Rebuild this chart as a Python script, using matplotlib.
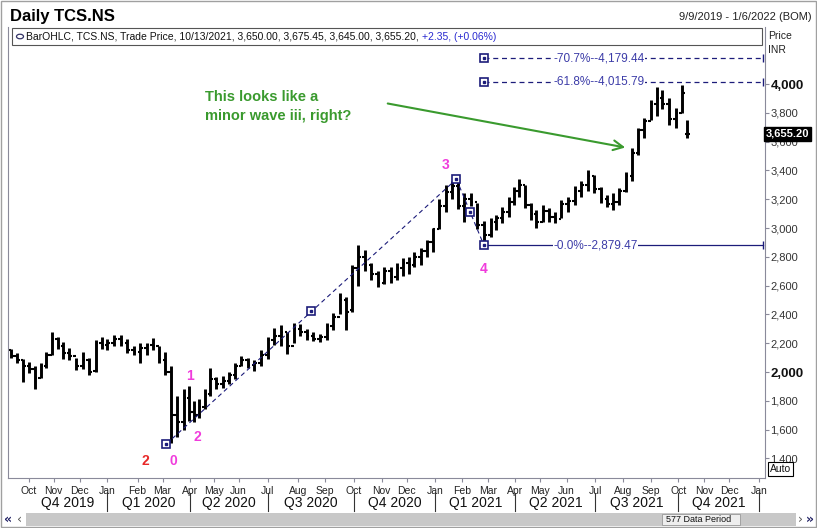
import matplotlib
matplotlib.use('Agg')
import matplotlib.pyplot as plt
import matplotlib.transforms as mtransforms
from matplotlib.patches import Rectangle
import numpy as np
import pandas as pd

plt.rcParams['font.family'] = ['Liberation Sans Narrow', 'Liberation Sans', 'DejaVu Sans']

# NSE trading holidays in the displayed range
holidays = pd.to_datetime([
    '2019-09-10', '2019-10-02', '2019-10-08', '2019-10-21', '2019-10-28', '2019-11-12', '2019-12-25',
    '2020-02-21', '2020-03-10', '2020-04-02', '2020-04-06', '2020-04-10', '2020-04-14', '2020-05-01',
    '2020-05-25', '2020-10-02', '2020-11-16', '2020-11-30', '2020-12-25',
    '2021-01-26', '2021-03-11', '2021-03-29', '2021-04-02', '2021-04-14', '2021-04-21', '2021-05-13',
    '2021-07-21', '2021-08-19', '2021-09-10', '2021-10-15', '2021-11-04', '2021-11-05', '2021-11-19',
])

# weekly OHLC (week starting Monday)
week_start = pd.date_range('2019-09-09', '2021-10-11', freq='W-MON')
last_day = pd.Timestamp('2021-10-13')

highs = [2160, 2130, 2090, 2070, 2040, 2060, 2140, 2280, 2245, 2210,
         2170, 2100, 2140, 2100, 2225, 2245, 2230, 2260, 2260, 2230,
         2180, 2200, 2200, 2236, 2180, 2140, 2040, 1830, 1880, 1900,
         1800, 1810, 1880, 2030, 1965, 1970, 2000, 2060, 2110, 2100,
         2080, 2150, 2240, 2306, 2326, 2280, 2340, 2330, 2300, 2275,
         2265, 2340, 2410, 2549, 2520, 2740, 2882, 2850, 2760, 2700,
         2730, 2730, 2757, 2790, 2800, 2833, 2860, 2917, 3000, 3200,
         3300, 3330, 3340, 3243, 3243, 3174, 3050, 3070, 3090, 3146,
         3215, 3285, 3340, 3300, 3174, 3125, 3160, 3140, 3111, 3194,
         3215, 3290, 3330, 3403, 3368, 3285, 3229, 3243, 3278, 3389,
         3555, 3694, 3764, 3890, 3981, 3960, 3900, 3833, 3990, 3750]
lows = [2095, 2060, 1930, 1995, 1885, 1960, 2030, 2120, 2160, 2090,
        2080, 2015, 2020, 1980, 2000, 2160, 2150, 2180, 2180, 2130,
        2120, 2060, 2120, 2150, 2060, 1980, 1506, 1550, 1600, 1660,
        1650, 1680, 1740, 1830, 1880, 1890, 1920, 1950, 2040, 2030,
        2010, 2040, 2090, 2190, 2180, 2125, 2200, 2250, 2225, 2215,
        2205, 2220, 2290, 2400, 2290, 2420, 2600, 2700, 2640, 2590,
        2610, 2620, 2640, 2670, 2680, 2729, 2740, 2800, 2833, 2990,
        3110, 3200, 3130, 3042, 3150, 2990, 2880, 2938, 2986, 3035,
        3076, 3160, 3215, 3139, 3056, 3000, 3042, 3040, 3035, 3070,
        3111, 3160, 3215, 3260, 3243, 3174, 3146, 3125, 3160, 3250,
        3330, 3507, 3625, 3750, 3780, 3830, 3715, 3694, 3800, 3625]
opens = [2150, 2110, 2080, 2040, 2020, 1960, 2040, 2120, 2230, 2180,
         2130, 2110, 2040, 2080, 2010, 2200, 2190, 2200, 2230, 2200,
         2150, 2140, 2170, 2190, 2180, 2080, 2000, 1700, 1650, 1820,
         1720, 1700, 1760, 1850, 1950, 1920, 1940, 1980, 2040, 2080,
         2050, 2060, 2120, 2220, 2250, 2280, 2180, 2300, 2280, 2250,
         2230, 2240, 2320, 2380, 2500, 2430, 2720, 2800, 2740, 2680,
         2620, 2700, 2660, 2720, 2760, 2740, 2800, 2840, 2900, 2990,
         3150, 3250, 3290, 3150, 3200, 3180, 3020, 2950, 3040, 3070,
         3110, 3180, 3260, 3300, 3160, 3100, 3040, 3120, 3080, 3060,
         3170, 3190, 3260, 3300, 3360, 3270, 3200, 3170, 3180, 3260,
         3360, 3520, 3680, 3740, 3860, 3900, 3860, 3760, 3800, 3650]
closes = [2110, 2080, 2040, 2020, 1960, 2040, 2120, 2230, 2180, 2130,
          2110, 2040, 2080, 2000, 2200, 2190, 2200, 2230, 2200, 2150,
          2140, 2170, 2190, 2180, 2090, 2000, 1700, 1650, 1820, 1720,
          1700, 1760, 1850, 1950, 1920, 1940, 1980, 2040, 2080, 2050,
          2060, 2120, 2220, 2250, 2280, 2180, 2300, 2280, 2250, 2230,
          2240, 2320, 2380, 2500, 2420, 2720, 2800, 2740, 2680, 2620,
          2700, 2660, 2720, 2760, 2740, 2800, 2840, 2900, 2990, 3150,
          3250, 3290, 3150, 3200, 3180, 3020, 2950, 3040, 3070, 3110,
          3180, 3260, 3300, 3160, 3100, 3040, 3120, 3080, 3060, 3170,
          3190, 3260, 3300, 3360, 3270, 3200, 3170, 3180, 3260, 3360,
          3520, 3680, 3740, 3860, 3900, 3860, 3760, 3800, 3935, 3655.20]

# last bar shown in the header
last_ohlc = [3650.00, 3675.45, 3645.00, 3655.20]
last_change = 2.35
last_pct = 0.06

# Elliott wave anchors (0, 3, 4) and fib levels
wave_dates = pd.to_datetime(['2020-03-05', '2021-01-25', '2021-02-24'])
wave_prices = [1501.09, 3339.80, 2879.47]
fib_ratios = [0.0, 0.618, 0.707]

price_ticks = list(range(1400, 4001, 200))
quarters = ['Q4 2019', 'Q1 2020', 'Q2 2020', 'Q3 2020', 'Q4 2020',
            'Q1 2021', 'Q2 2021', 'Q3 2021', 'Q4 2021']

# trading-day calendar -> x index
days = pd.bdate_range('2019-09-09', '2022-01-06')
days = days[~days.isin(holidays)]
day_idx = pd.Series(np.arange(len(days)), index=days)


def xpos(d):
    return day_idx.index.searchsorted(pd.Timestamp(d))


xs = []
for ws in week_start:
    end = min(ws + pd.Timedelta(days=4), last_day)
    sel = day_idx[(day_idx.index >= ws) & (day_idx.index <= end)]
    xs.append(sel.mean())
xs = np.array(xs)

W, H = 817, 528
fig = plt.figure(figsize=(W / 100, H / 100), dpi=100)


def fx(x):
    return x / W


def fy(y):
    return 1 - y / H


ax = fig.add_axes([fx(8), fy(478), (765 - 8) / W, (478 - 27) / H])
ax.set_xlim(-0.8, 576.2)
ax.set_ylim(1264, 4396)

# price bars
ax.vlines(xs, lows, highs, color='black', lw=2.1)
ax.hlines(opens, xs - 2.0, xs, color='black', lw=1.5)
ax.hlines(closes, xs, xs + 2.0, color='black', lw=1.5)

navy = '#1c1c7a'
wx = [xpos(d) for d in wave_dates]
x_end = 574.5


def box(x, y):
    ax.plot([x], [y], marker='s', ms=6, mfc='white', mec=navy, mew=1.2, zorder=5, clip_on=False)
    ax.plot([x], [y], marker='s', ms=2, mfc=navy, mec=navy, zorder=6, clip_on=False)


# wave lines 0->3->4
ax.plot(wx[:2], wave_prices[:2], ls=(0, (4, 3)), color=navy, lw=0.8)
ax.plot(wx[1:], wave_prices[1:], ls=(0, (4, 3)), color=navy, lw=0.8)
for i in range(3):
    box(wx[i], wave_prices[i])
box((wx[0] + wx[1]) / 2, (wave_prices[0] + wave_prices[1]) / 2)
box((wx[1] + wx[2]) / 2, (wave_prices[1] + wave_prices[2]) / 2)

# fib levels projected from wave 4
rng = wave_prices[1] - wave_prices[0]
for r in fib_ratios:
    lvl = wave_prices[2] + r * rng
    ls = '-' if r == 0 else (0, (4, 3))
    ax.plot([wx[2], x_end], [lvl, lvl], ls=ls, color=navy, lw=0.9)
    if r != 0:
        box(wx[2], lvl)
    ax.plot([x_end], [lvl], marker='|', ms=6, color=navy, mew=1)
    ax.text(xpos('2021-05-18'), lvl, f'-{r * 100:.1f}%--{lvl:,.2f}', fontsize=8.5,
            color='#3c3ca8', va='center', ha='left',
            bbox=dict(fc='white', ec='none', pad=0.2))

# wave labels
mag = '#f03cdc'
lab_kw = dict(fontsize=10, fontweight='bold', ha='center', va='center',
              family=['Liberation Sans', 'DejaVu Sans'])
ax.text(104, 1382, '2', color='#e82828', **lab_kw)
ax.text(125, 1382, '0', color=mag, **lab_kw)
ax.text(138, 1972, '1', color=mag, **lab_kw)
ax.text(143.3, 1549, '2', color=mag, **lab_kw)
ax.text(333, 3437, '3', color=mag, **lab_kw)
ax.text(362, 2715, '4', color=mag, **lab_kw)

# green comment + arrow
green = '#3a9a2e'
fig.text(fx(205), fy(97), 'This looks like a', color=green, fontsize=10.5, fontweight='bold',
         va='center', family=['Liberation Sans', 'DejaVu Sans'])
fig.text(fx(205), fy(116), 'minor wave iii, right?', color=green, fontsize=10.5, fontweight='bold',
         va='center', family=['Liberation Sans', 'DejaVu Sans'])
ax.annotate('', xy=(628, H - 148), xycoords='figure pixels', xytext=(385, H - 103),
            textcoords='figure pixels',
            arrowprops=dict(arrowstyle='->,head_length=0.7,head_width=0.35', color=green, lw=1.5))

# axes styling
for s in ['left', 'bottom', 'right']:
    ax.spines[s].set_color('#8a8a9a')
    ax.spines[s].set_linewidth(0.8)
ax.spines['top'].set_visible(False)
ax.yaxis.tick_right()
ax.set_yticks(price_ticks)
ax.set_yticklabels([f'{v:,}' for v in price_ticks])
ax.tick_params(axis='y', direction='out', length=3, width=0.8, colors='#8a8a9a',
               labelcolor='#333333', labelsize=8, pad=1)
for t, v in zip(ax.get_yticklabels(), price_ticks):
    if v in (2000, 4000):
        t.set_fontweight('bold')
        t.set_fontsize(9.5)
        t.set_color('#111111')

months = pd.date_range('2019-10-01', '2022-01-01', freq='MS')
mx = [xpos(m) for m in months]
ax.set_xticks(mx)
ax.set_xticklabels([m.strftime('%b') for m in months])
ax.tick_params(axis='x', direction='out', length=3, width=0.8, colors='#8a8a9a',
               labelcolor='#222222', labelsize=7.5, pad=3)

# quarter labels and separators
qstarts = pd.date_range('2019-10-01', '2022-01-01', freq='QS')
qx = [xpos(q) for q in qstarts]
blend = mtransforms.blended_transform_factory(ax.transData, ax.transAxes)
for i, q in enumerate(quarters):
    ax.text((qx[i] + qx[i + 1]) / 2, -0.055, q, transform=blend, ha='center', va='center',
            fontsize=10, color='#111111', clip_on=False)
for x in qx[1:]:
    ax.plot([x, x], [-0.033, -0.073], transform=blend, color='#333333', lw=0.8, clip_on=False)

# current price tag
ax.text(1.001, closes[-1], f'{closes[-1]:,.2f}',
        transform=mtransforms.blended_transform_factory(ax.transAxes, ax.transData),
        color='white', fontsize=8, fontweight='bold', va='center', ha='left',
        bbox=dict(fc='black', ec='black', pad=1.5))

# header
fig.text(fx(10), fy(16), 'Daily TCS.NS', fontsize=12, fontweight='bold', va='center',
         family=['Liberation Sans', 'DejaVu Sans'])
fig.text(fx(812), fy(17), '9/9/2019 - 1/6/2022 (BOM)', fontsize=8, va='center', ha='right',
         color='#222222')
fig.add_artist(Rectangle((fx(12), fy(45)), fx(762) - fx(12), fy(28) - fy(45),
                         transform=fig.transFigure, fill=False, ec='#555555', lw=0.8))
fig.add_artist(plt.Circle((fx(20), fy(36.5)), 3.5 / W, transform=fig.transFigure,
                          fill=False, ec='#333366', lw=0.9))
t1 = fig.text(fx(26), fy(36.5),
              'BarOHLC, TCS.NS, Trade Price, 10/13/2021, ' +
              ', '.join(f'{v:,.2f}' for v in last_ohlc) + ', ',
              fontsize=7.5, va='center', color='#111111')
fig.canvas.draw()
bb = t1.get_window_extent()
fig.text(bb.x1 / W, fy(36.5), f'+{last_change:.2f}, (+{last_pct:.2f}%)', fontsize=7.5,
         va='center', color='#2a2ad0')
fig.text(fx(768), fy(36), 'Price', fontsize=7.5, va='center', color='#222222')
fig.text(fx(768), fy(50), 'INR', fontsize=7.5, va='center', color='#222222')
fig.text(fx(770), fy(469), 'Auto', fontsize=7.5, va='center', color='#111111',
         bbox=dict(fc='white', ec='black', lw=0.8, pad=1.2))

# scroll bar
fig.add_artist(Rectangle((fx(26), fy(526)), fx(796) - fx(26), fy(513) - fy(526),
                         transform=fig.transFigure, fc='#c8c8c8', ec='none'))
fig.add_artist(Rectangle((fx(662), fy(525)), fx(740) - fx(662), fy(514) - fy(525),
                         transform=fig.transFigure, fc='#eeeeee', ec='#999999', lw=0.6))
fig.text(fx(666), fy(519.5), '577 Data Period', fontsize=6.5, va='center', color='#111111')
fig.text(fx(4), fy(519.5), '«', fontsize=9, va='center', fontweight='bold', color='#222266',
         family=['DejaVu Sans'])
fig.text(fx(17), fy(519.5), '‹', fontsize=9, va='center', color='#555555', family=['DejaVu Sans'])
fig.text(fx(798), fy(519.5), '›', fontsize=9, va='center', color='#555555', family=['DejaVu Sans'])
fig.text(fx(806), fy(519.5), '»', fontsize=9, va='center', fontweight='bold', color='#222266',
         family=['DejaVu Sans'])

# outer frame
fig.add_artist(Rectangle((0.001, 0.001), 0.998, 0.998, transform=fig.transFigure,
                         fill=False, ec='#a0a0a0', lw=1))

fig.savefig('out.png', dpi=100)
